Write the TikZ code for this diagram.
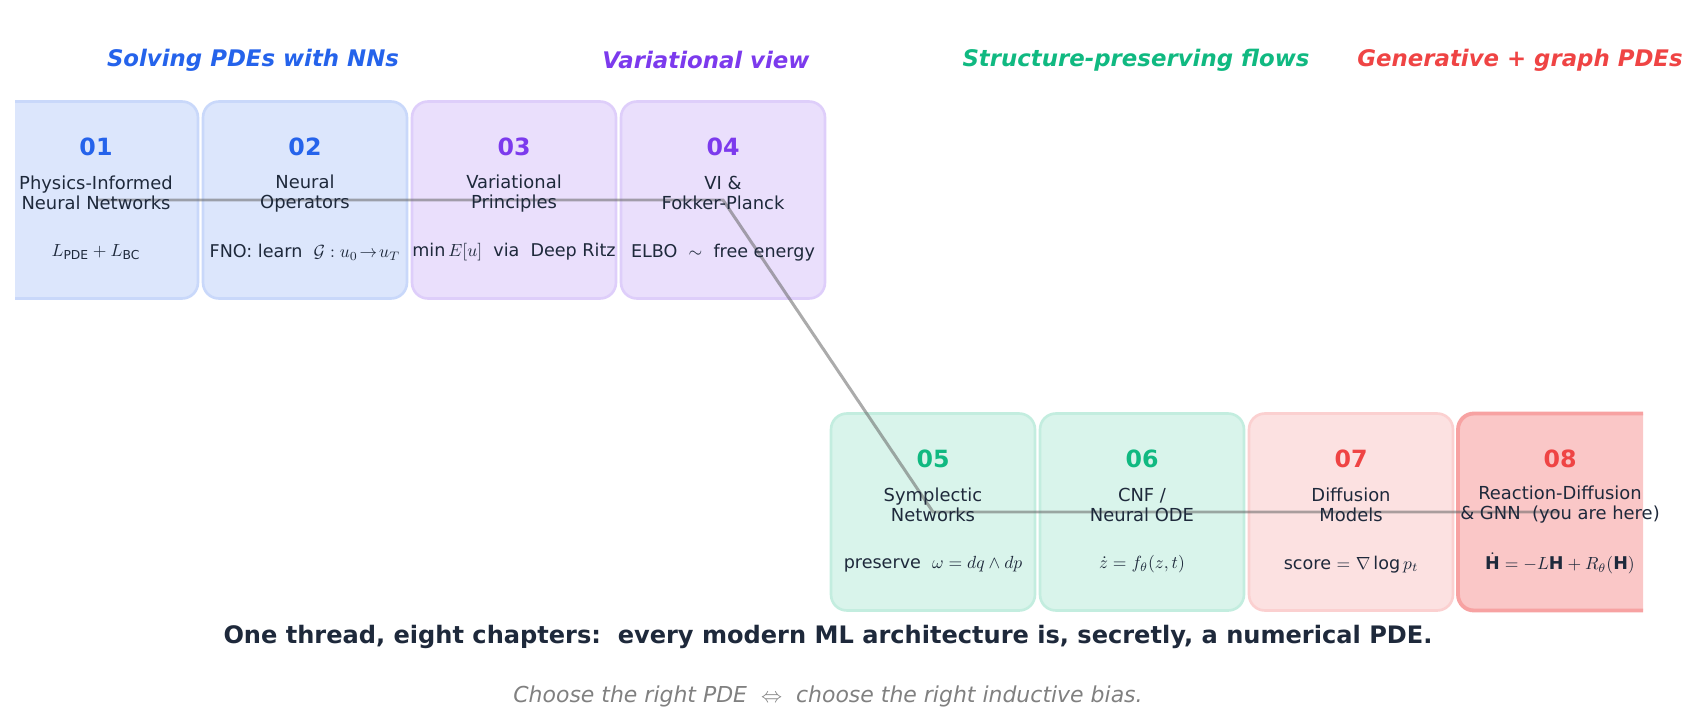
\documentclass[tikz,border=0pt]{standalone}
\usepackage{fontspec}
\setmainfont{DejaVu Sans}
\usepackage{amsmath,amssymb}
\usetikzlibrary{positioning}
\definecolor{ink}{HTML}{1E293B}
\definecolor{bluec}{HTML}{2563EB}
\definecolor{purplec}{HTML}{7C3AED}
\definecolor{greenc}{HTML}{10B981}
\definecolor{redc}{HTML}{EF4444}
\tikzset{
  card/.style={draw=#1!25, fill=#1!16, line width=1.5pt, rounded corners=9pt,
    minimum width=4.08cm, minimum height=3.94cm, inner sep=0pt},
  num/.style={text=#1, font=\bfseries\fontsize{13.5}{15}\selectfont},
  ttl/.style={text=ink, align=center, font=\fontsize{10.2}{11.5}\selectfont},
  frm/.style={text=ink, font=\fontsize{10}{12}\selectfont},
  head/.style={text=#1, font=\bfseries\itshape\fontsize{13}{15}\selectfont},
  thread/.style={draw=gray!80!black, opacity=0.55, line width=1.7pt}
}
\newcommand\chapcard[4]{%
  \node[card=#4] (#1) at (#2,#3) {};
}
\newcommand\chaptext[4]{%
  \node[num=#2] (#1n) at ([yshift=-0.94cm]#1.north) {#3};
  \node[ttl] (#1t) at ([yshift=-1.86cm]#1.north) {#4};
}
\begin{document}
\begin{tikzpicture}[x=0.02cm, y=-0.02cm]
\useasboundingbox (0,0) rectangle (1698,723);
% headers
\node[head=bluec] (h1) at (253,60) {Solving PDEs with NNs};
\node[head=purplec] (h2) at (706,60) {Variational view};
\node[head=greenc] (h3) at (1136,60) {Structure-preserving flows};
\node[head=redc] (h4) at (1520,60) {Generative + graph PDEs};
\begin{scope}
\clip (15,0) rectangle (1643,723);
\chapcard{c1}{96}{200}{bluec}
\chapcard{c2}{305}{200}{bluec}
\chapcard{c3}{514}{200}{purplec}
\chapcard{c4}{723}{200}{purplec}
\chapcard{c5}{933}{512}{greenc}
\chapcard{c6}{1142}{512}{greenc}
\chapcard{c7}{1351}{512}{redc}
\node[card=redc, fill=redc!30, draw=redc!50, line width=2.2pt] (c8) at (1560,512) {};
\end{scope}
% thread
\draw[thread] (c1.center) -- (c4.center) -- (c5.center) -- (c8.center);
% card texts
\chaptext{c1}{bluec}{01}{Physics-Informed\\Neural Networks}
\chaptext{c2}{bluec}{02}{Neural\\Operators}
\chaptext{c3}{purplec}{03}{Variational\\Principles}
\chaptext{c4}{purplec}{04}{VI \&\\Fokker-Planck}
\chaptext{c5}{greenc}{05}{Symplectic\\Networks}
\chaptext{c6}{greenc}{06}{CNF /\\Neural ODE}
\chaptext{c7}{redc}{07}{Diffusion\\Models}
\chaptext{c8}{redc}{08}{Reaction-Diffusion\\\& GNN\ \ (you are here)}
\node[frm] (c1f) at ([yshift=-3.04cm]c1.north) {$L_{\mathrm{PDE}}+L_{\mathrm{BC}}$};
\node[frm] (c2f) at ([yshift=-3.04cm]c2.north) {FNO: learn\ \ $\mathcal{G}:u_0\!\rightarrow\! u_T$};
\node[frm] (c3f) at ([yshift=-3.04cm]c3.north) {$\min E[u]$\ \ via\ \ Deep Ritz};
\node[frm] (c4f) at ([yshift=-3.04cm]c4.north) {ELBO\ \ $\sim$\ \ free energy};
\node[frm] (c5f) at ([yshift=-3.04cm]c5.north) {preserve\ \ $\omega=dq\wedge dp$};
\node[frm] (c6f) at ([yshift=-3.04cm]c6.north) {$\dot z=f_\theta(z,t)$};
\node[frm] (c7f) at ([yshift=-3.04cm]c7.north) {score\ $=$\ $\nabla\log p_t$};
\node[frm] (c8f) at ([yshift=-3.04cm]c8.north) {$\dot{\mathbf{H}}=-L\mathbf{H}+R_\theta(\mathbf{H})$};
% footer
\node[text=ink, font=\bfseries\fontsize{13.7}{16}\selectfont] (ft) at (828,637)
  {One thread, eight chapters:\ \ every modern ML architecture is, secretly, a numerical PDE.};
\node[text=gray, font=\itshape\fontsize{12.5}{15}\selectfont] (fs) at (828,696)
  {Choose the right PDE\ \ $\Leftrightarrow$\ \ choose the right inductive bias.};
\end{tikzpicture}
\end{document}
